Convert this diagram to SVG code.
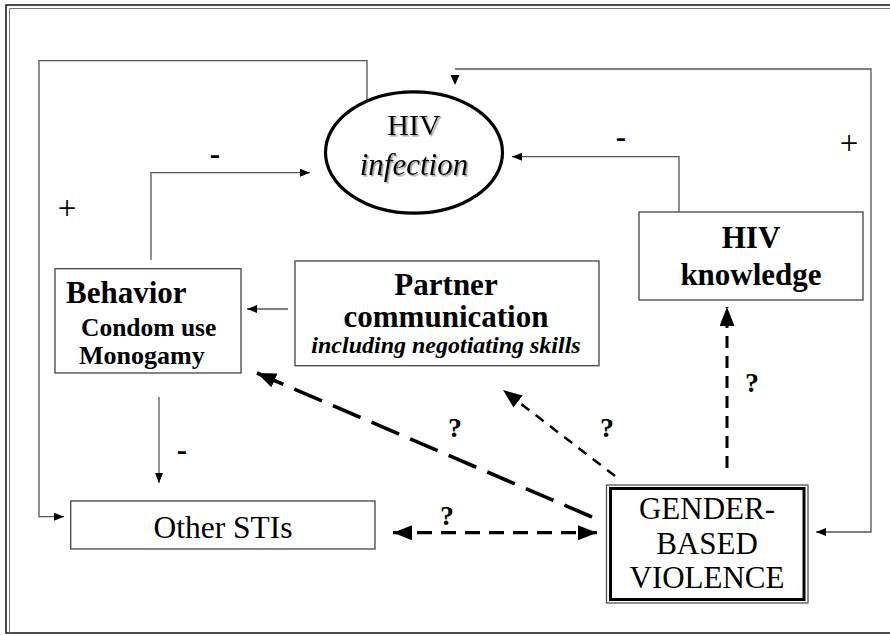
<svg xmlns="http://www.w3.org/2000/svg" width="890" height="635" viewBox="0 0 890 635">
<defs>
<style>
.t{font-family:'Liberation Serif','Times New Roman','DejaVu Serif',serif;fill:#000}
.b{font-weight:bold}
.i{font-style:italic}
.m{text-anchor:middle}
.box{fill:#fff;stroke:#444;stroke-width:1.3}
.ln{fill:none;stroke:#555;stroke-width:1.3}
.dash{fill:none;stroke:#000}
</style>
<marker id="sa" markerUnits="userSpaceOnUse" markerWidth="11" markerHeight="9" refX="10" refY="4" orient="auto"><path d="M0,0 L10,4 L0,8 z" fill="#000"/></marker>
<marker id="la" markerUnits="userSpaceOnUse" markerWidth="20" markerHeight="16" refX="19" refY="7.5" orient="auto-start-reverse"><path d="M0,0 L19,7.5 L0,15 z" fill="#000"/></marker>
<filter id="sh" x="-10%" y="-10%" width="130%" height="130%"><feDropShadow dx="1.5" dy="1.5" stdDeviation="0.6" flood-color="#888" flood-opacity="0.8"/></filter>
</defs>
<rect width="890" height="635" fill="#fff"/>
<g id="frame">
<rect x="6" y="5" width="900" height="628" fill="none" stroke="#222" stroke-width="1.6"/>
<path d="M9.5,633 V8.5 H900" fill="none" stroke="#777" stroke-width="1"/>
</g>
<g id="connectors">
<path class="ln" d="M367,100 V60.7 H39 V516.7 H64" marker-end="url(#sa)"/>
<path class="ln" d="M151,260 V172.7 H310" marker-end="url(#sa)"/>
<path class="ln" d="M679,212 V156.7 H512" marker-end="url(#sa)"/>
<path class="ln" d="M455,69 H871 V532 H816" marker-end="url(#sa)"/>
<polygon points="450.5,75 459.5,75 455,85" fill="#000"/>
<path class="ln" d="M288,309 H247" marker-end="url(#sa)"/>
<path class="ln" d="M159,397 V483" marker-end="url(#sa)"/>
<path class="dash" d="M393,532.7 H597" stroke-width="3.2" stroke-dasharray="15 9" marker-start="url(#la)" marker-end="url(#la)"/>
<path class="dash" d="M592,517 L257,373" stroke-width="3.6" stroke-dasharray="30 12" marker-end="url(#la)"/>
<path class="dash" d="M615,476 L503,390" stroke-width="2.5" stroke-dasharray="10 8" marker-end="url(#la)"/>
<path class="dash" d="M727,468 V307" stroke-width="3" stroke-dasharray="12 8" marker-end="url(#la)"/>
</g>
<g id="labels">
<text class="t b m" x="215" y="164" font-size="31">-</text>
<text class="t b m" x="621" y="147" font-size="31">-</text>
<text class="t b m" x="182" y="460" font-size="31">-</text>
<text class="t m" x="67" y="219" font-size="33">+</text>
<text class="t m" x="849" y="154" font-size="33">+</text>
<text class="t b m" x="455" y="437" font-size="28">?</text>
<text class="t b m" x="607" y="437" font-size="28">?</text>
<text class="t b m" x="752" y="392" font-size="28">?</text>
<text class="t b m" x="447" y="525" font-size="28">?</text>
</g>
<g id="hiv-infection">
<ellipse cx="414" cy="152.5" rx="88.5" ry="60.7" fill="#fff" stroke="#000" stroke-width="3.2"/>
<g filter="url(#sh)">
<text class="t m" x="414" y="135" font-size="30">HIV</text>
<text class="t i m" x="414" y="175" font-size="31">infection</text>
</g>
</g>
<g id="hiv-knowledge">
<rect class="box" x="639" y="212" width="224" height="88"/>
<text class="t b m" x="751" y="248" font-size="31">HIV</text>
<text class="t b m" x="751" y="285" font-size="31">knowledge</text>
</g>
<g id="behavior">
<rect class="box" x="55" y="268.7" width="186" height="104.3"/>
<text class="t b" x="66" y="303" font-size="31">Behavior</text>
<text class="t b" x="81" y="335.5" font-size="25.5">Condom use</text>
<text class="t b" x="79" y="363.5" font-size="26">Monogamy</text>
</g>
<g id="partner">
<rect class="box" x="295" y="261" width="304" height="104.7"/>
<text class="t b m" x="446" y="295" font-size="31">Partner</text>
<text class="t b m" x="446" y="327" font-size="31">communication</text>
<text class="t b i m" x="446" y="353" font-size="24">including negotiating skills</text>
</g>
<g id="other-stis">
<rect class="box" x="70.7" y="501" width="304.3" height="48"/>
<text class="t m" x="223" y="538" font-size="31.5">Other STIs</text>
</g>
<g id="gbv">
<rect x="606.5" y="485" width="201.5" height="118" fill="#fff" stroke="#444" stroke-width="1.2"/>
<rect x="610.5" y="488.5" width="193.5" height="111" fill="none" stroke="#000" stroke-width="3"/>
<text class="t m" x="707" y="519" font-size="31">GENDER-</text>
<text class="t m" x="707" y="554" font-size="31">BASED</text>
<text class="t m" x="707" y="588" font-size="31">VIOLENCE</text>
</g>
</svg>
